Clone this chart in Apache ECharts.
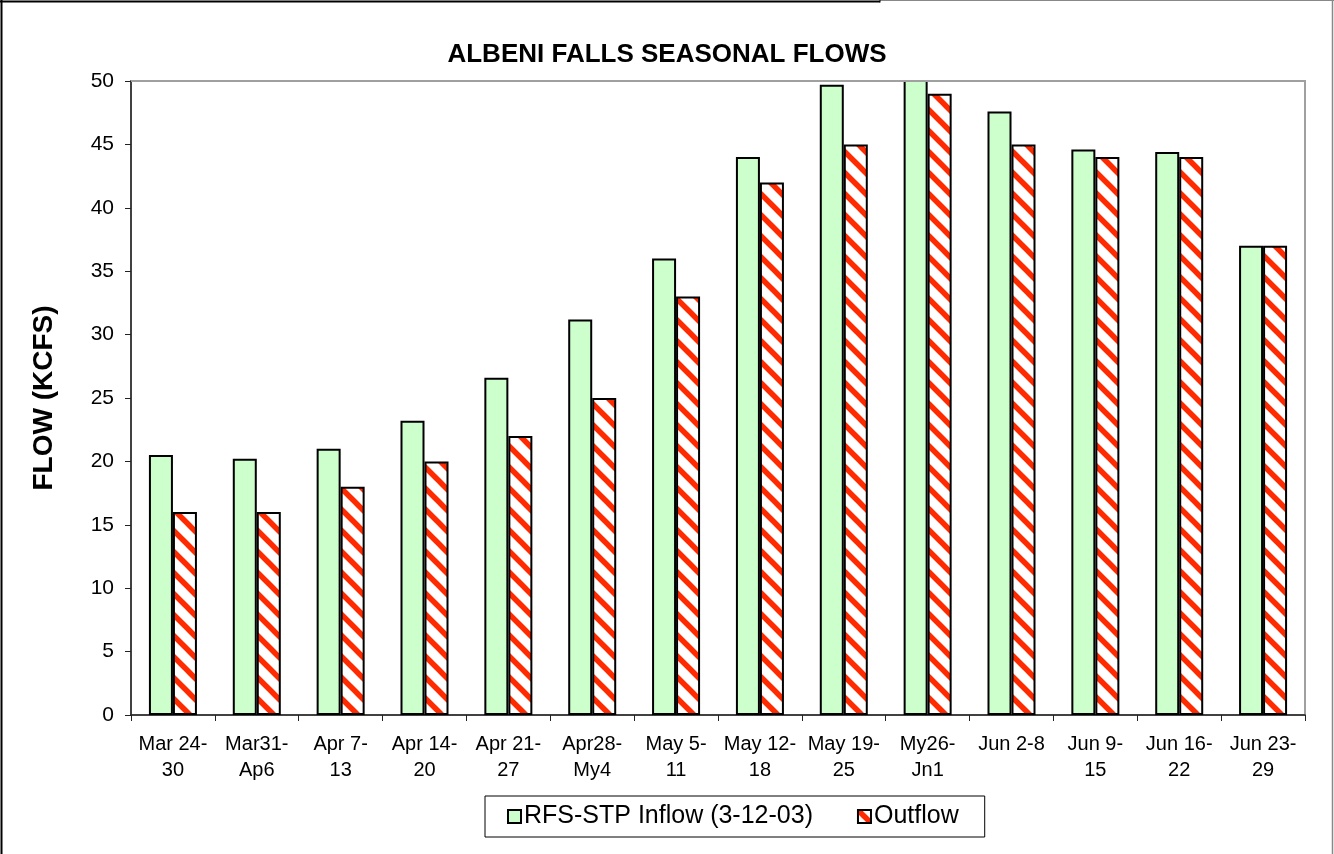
<!DOCTYPE html>
<html><head><meta charset="utf-8">
<script src="https://cdn.jsdelivr.net/npm/echarts@6/dist/echarts.min.js"></script>
<style>html,body{margin:0;padding:0;background:#fff}#c{width:1334px;height:854px}</style>
</head><body><div id="c"></div>
<script>
const categories = ['Mar 24-\n30','Mar31-\nAp6','Apr 7-\n13','Apr 14-\n20','Apr 21-\n27','Apr28-\nMy4','May 5-\n11','May 12-\n18','May 19-\n25','My26-\nJn1','Jun 2-8','Jun 9-\n15','Jun 16-\n22','Jun 23-\n29'];
const inflow = [20.5, 20.2, 21.0, 23.2, 26.6, 31.2, 36.0, 44.0, 49.7, 51.5, 47.6, 44.6, 44.4, 37.0];
const outflow = [16, 16, 18, 20, 22, 25, 33, 42, 45, 49, 45, 44, 44, 37];
const seriesNames = ['RFS-STP Inflow (3-12-03)', 'Outflow'];
const yMin = 0, yMax = 50, yStep = 5;

const FONT = 'Arial, "Liberation Sans", sans-serif';

function hatch() {
  const P = 21;
  const cv = document.createElement('canvas');
  cv.width = P; cv.height = P;
  const ctx = cv.getContext('2d');
  ctx.fillStyle = '#ffffff';
  ctx.fillRect(0, 0, P, P);
  ctx.strokeStyle = '#ff2a00';
  ctx.lineWidth = 5.5;
  for (const k of [-P, 0, P]) {
    ctx.beginPath();
    ctx.moveTo(k - 2, -2);
    ctx.lineTo(k + P + 2, P + 2);
    ctx.stroke();
  }
  return cv;
}

const chart = echarts.init(document.getElementById('c'), null, {renderer: 'canvas'});
chart.setOption({
  backgroundColor: '#ffffff',
  animation: false,
  textStyle: {fontFamily: FONT, color: '#000'},
  title: {
    text: 'ALBENI FALLS SEASONAL FLOWS',
    left: 'center', top: 37,
    textStyle: {fontFamily: FONT, fontSize: 26, fontWeight: 'bold', color: '#000'}
  },
  legend: {
    left: 485, top: 796,
    orient: 'horizontal',
    padding: [8, 26, 8, 22],
    itemGap: 44,
    icon: 'rect',
    itemWidth: 13, itemHeight: 13,
    borderColor: '#000', borderWidth: 1,
    textStyle: {fontFamily: FONT, fontSize: 25, color: '#000', padding: [0, 0, 0, -2]},
    data: seriesNames
  },
  grid: {
    left: 131, top: 81, right: 29, bottom: 139,
    show: true, borderColor: '#a0a0a0', borderWidth: 2, backgroundColor: '#fff'
  },
  xAxis: {
    type: 'category',
    data: categories,
    axisLine: {lineStyle: {color: '#222', width: 1.5}},
    axisTick: {show: true, length: 6, lineStyle: {color: '#222', width: 1}},
    axisLabel: {fontFamily: FONT, fontSize: 20, color: '#000', lineHeight: 26, margin: 16, interval: 0}
  },
  yAxis: {
    type: 'value',
    min: yMin, max: yMax, interval: yStep,
    name: 'FLOW (KCFS)',
    nameLocation: 'middle', nameRotate: 90, nameGap: 73,
    nameTextStyle: {fontFamily: FONT, fontSize: 28, fontWeight: 'bold', color: '#000'},
    axisLine: {show: true, lineStyle: {color: '#222', width: 1.5}},
    axisTick: {show: true, length: 6, lineStyle: {color: '#222', width: 1}},
    axisLabel: {fontFamily: FONT, fontSize: 21, color: '#000', margin: 17},
    splitLine: {show: false}
  },
  series: [
    {
      name: seriesNames[0], type: 'bar', data: inflow,
      barWidth: 24, barGap: '0%', clip: true,
      itemStyle: {color: '#ccffcc', borderColor: '#000', borderWidth: 2}
    },
    {
      name: seriesNames[1], type: 'bar', data: outflow,
      barWidth: 24, barGap: '0%', clip: true,
      itemStyle: {color: {image: hatch(), repeat: 'repeat'}, borderColor: '#000', borderWidth: 2}
    }
  ],
  graphic: [
    {type: 'line', shape: {x1: 0, y1: 1.5, x2: 880, y2: 1.5}, style: {stroke: '#000', lineWidth: 2}, silent: true},
    {type: 'line', shape: {x1: 880, y1: 0.5, x2: 1334, y2: 0.5}, style: {stroke: '#888', lineWidth: 1}, silent: true},
    {type: 'line', shape: {x1: 880, y1: 0, x2: 880, y2: 2.5}, style: {stroke: '#000', lineWidth: 1}, silent: true},
    {type: 'line', shape: {x1: 1.5, y1: 0, x2: 1.5, y2: 854}, style: {stroke: '#000', lineWidth: 2}, silent: true},
    {type: 'line', shape: {x1: 1332.5, y1: 0, x2: 1332.5, y2: 854}, style: {stroke: '#888', lineWidth: 1.5}, silent: true}
  ]
});

// redraw the plot-area top frame line above the (clipped) bars
const rect = chart.getModel().getComponent('grid', 0).coordinateSystem.getRect();
chart.setOption({
  graphic: [
    {type: 'line', id: 'topFrame', z: 100,
     shape: {x1: rect.x, y1: rect.y, x2: rect.x + rect.width, y2: rect.y},
     style: {stroke: '#a0a0a0', lineWidth: 2}, silent: true}
  ]
});
</script>
</body></html>
